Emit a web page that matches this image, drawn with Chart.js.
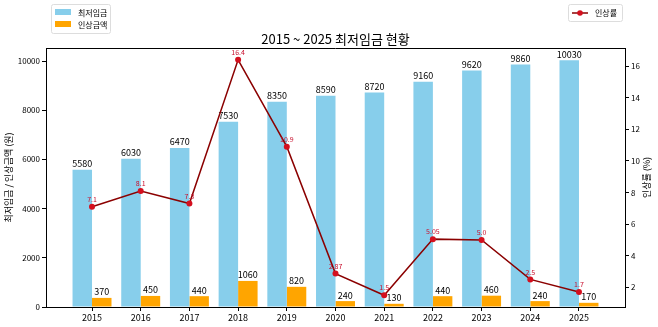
<!DOCTYPE html>
<html><head><meta charset="utf-8">
<script src="https://cdn.jsdelivr.net/npm/chart.js@4"></script>
<style>html,body{margin:0;padding:0;background:#fff;}#wrap{width:658px;height:327px;}</style>
</head><body><div id="wrap"><canvas id="c" width="658" height="327"></canvas></div>
<script>
const years = ['2015','2016','2017','2018','2019','2020','2021','2022','2023','2024','2025'];
const minWage = [5580, 6030, 6470, 7530, 8350, 8590, 8720, 9160, 9620, 9860, 10030];
const raiseAmt = [370, 450, 440, 1060, 820, 240, 130, 440, 460, 240, 170];
const raiseRate = [7.1, 8.1, 7.3, 16.4, 10.9, 2.87, 1.5, 5.05, 5.0, 2.5, 1.7];
const rateLabels = ['7.1','8.1','7.3','16.4','10.9','2.87','1.5','5.05','5.0','2.5','1.7'];
const leftTicks = [0, 2000, 4000, 6000, 8000, 10000];
const rightTicks = [2, 4, 6, 8, 10, 12, 14, 16];

const FONT = '"Noto Sans CJK KR", "Noto Sans", sans-serif';

const overlay = {
  id: 'overlay',
  afterDatasetDraw(chart, args) {
    const ctx = chart.ctx;
    const i = args.index;
    if (i > 1) return;
    const vals = i === 0 ? minWage : raiseAmt;
    const meta = chart.getDatasetMeta(i);
    ctx.save();
    ctx.fillStyle = '#000';
    ctx.font = '9px ' + FONT;
    ctx.textAlign = 'center';
    ctx.textBaseline = 'bottom';
    meta.data.forEach((el, k) => {
      ctx.fillText(String(vals[k]), el.x, el.y - 1.5);
    });
    ctx.restore();
  },
  afterDraw(chart) {
    const ctx = chart.ctx;
    const a = chart.chartArea;
    ctx.save();
    ctx.strokeStyle = '#000';
    ctx.lineWidth = 1;
    ctx.beginPath();
    ctx.moveTo(a.left, a.top + 0.5);
    ctx.lineTo(a.right, a.top + 0.5);
    ctx.stroke();
    const meta = chart.getDatasetMeta(2);
    ctx.fillStyle = '#c8102e';
    ctx.font = '7px ' + FONT;
    ctx.textAlign = 'center';
    ctx.textBaseline = 'bottom';
    meta.data.forEach((el, k) => {
      ctx.fillText(rateLabels[k], el.x, el.y - 4);
    });
    ctx.fillStyle = '#000';
    ctx.font = '13px ' + FONT;
    ctx.textAlign = 'center';
    ctx.textBaseline = 'alphabetic';
    ctx.fillText('2015 ~ 2025 최저임금 현황', (a.left + a.right) / 2, 44);
    ctx.font = '9px ' + FONT;
    ctx.textBaseline = 'middle';
    ctx.save();
    ctx.translate(9, (a.top + a.bottom) / 2);
    ctx.rotate(-Math.PI / 2);
    ctx.fillText('최저임금 / 인상금액 (원)', 0, 0);
    ctx.restore();
    ctx.save();
    ctx.translate(647, (a.top + a.bottom) / 2);
    ctx.rotate(-Math.PI / 2);
    ctx.fillText('인상률 (%)', 0, 0);
    ctx.restore();
    ctx.strokeStyle = '#ddd';
    ctx.fillStyle = '#fff';
    ctx.lineWidth = 1;
    ctx.beginPath();
    ctx.roundRect(51.5, 4.5, 59, 29, 2);
    ctx.fill();
    ctx.stroke();
    ctx.fillStyle = '#87CEEB';
    ctx.fillRect(55, 9, 16, 6);
    ctx.fillStyle = '#FFA500';
    ctx.fillRect(55, 21, 16, 6);
    ctx.fillStyle = '#000';
    ctx.font = '8px ' + FONT;
    ctx.textAlign = 'left';
    ctx.fillText('최저임금', 78, 12.5);
    ctx.fillText('인상금액', 78, 24.5);
    ctx.fillStyle = '#fff';
    ctx.strokeStyle = '#ddd';
    ctx.beginPath();
    ctx.roundRect(568.5, 4.5, 54, 17, 2);
    ctx.fill();
    ctx.stroke();
    ctx.strokeStyle = '#8B0000';
    ctx.lineWidth = 1.5;
    ctx.beginPath();
    ctx.moveTo(572, 13);
    ctx.lineTo(588, 13);
    ctx.stroke();
    ctx.fillStyle = '#d40f1e';
    ctx.beginPath();
    ctx.arc(580, 13, 2.8, 0, Math.PI * 2);
    ctx.fill();
    ctx.fillStyle = '#000';
    ctx.fillText('인상률', 595, 13);
    ctx.restore();
  }
};

new Chart(document.getElementById('c'), {
  data: {
    datasets: [
      {
        type: 'bar', label: '최저임금',
        data: minWage.map((v, i) => ({ x: i, y: v })),
        backgroundColor: '#87CEEB', yAxisID: 'y', order: 2,
        categoryPercentage: 0.8, barPercentage: 1.0
      },
      {
        type: 'bar', label: '인상금액',
        data: raiseAmt.map((v, i) => ({ x: i, y: v })),
        backgroundColor: '#FFA500', yAxisID: 'y', order: 2,
        categoryPercentage: 0.8, barPercentage: 1.0
      },
      {
        type: 'line', label: '인상률',
        data: raiseRate.map((v, i) => ({ x: i, y: v })),
        borderColor: '#8B0000', borderWidth: 1.5,
        pointBackgroundColor: '#d40f1e', pointBorderColor: '#d40f1e',
        pointRadius: 3, pointBorderWidth: 0, tension: 0,
        yAxisID: 'y1', order: 1
      }
    ]
  },
  options: {
    responsive: false,
    animation: false,
    devicePixelRatio: 1,
    layout: { padding: { top: 48, left: 0, right: 0, bottom: 0 } },
    plugins: { legend: { display: false }, tooltip: { enabled: false }, title: { display: false } },
    scales: {
      x: {
        type: 'linear', min: -0.945, max: 10.945, offset: false,
        afterBuildTicks(s) { s.ticks = years.map((_, i) => ({ value: i })); },
        ticks: { callback: (v) => years[v], color: '#000', font: { family: FONT, size: 9 }, padding: 1, maxRotation: 0, autoSkip: false },
        grid: { drawOnChartArea: false, offset: false, tickLength: 4, color: '#000' },
        border: { display: true, color: '#000', width: 1 },
        afterFit(s) { s.height = 20; }
      },
      y: {
        position: 'left', min: 0, max: 10531.5,
        afterBuildTicks(s) { s.ticks = leftTicks.map(v => ({ value: v })); },
        ticks: { callback: (v) => String(v), color: '#000', font: { family: FONT, size: 8 }, padding: 2 },
        grid: { drawOnChartArea: false, tickLength: 4, color: '#000' },
        border: { display: true, color: '#000', width: 1 },
        afterFit(s) { s.width = 46; }
      },
      y1: {
        position: 'right', min: 0.755, max: 17.145,
        afterBuildTicks(s) { s.ticks = rightTicks.map(v => ({ value: v })); },
        ticks: { callback: (v) => String(v), color: '#000', font: { family: FONT, size: 8 }, padding: 2 },
        grid: { drawOnChartArea: false, tickLength: 4, color: '#000' },
        border: { display: true, color: '#000', width: 1 },
        afterFit(s) { s.width = 33; }
      }
    }
  },
  plugins: [overlay]
});
</script></body></html>
